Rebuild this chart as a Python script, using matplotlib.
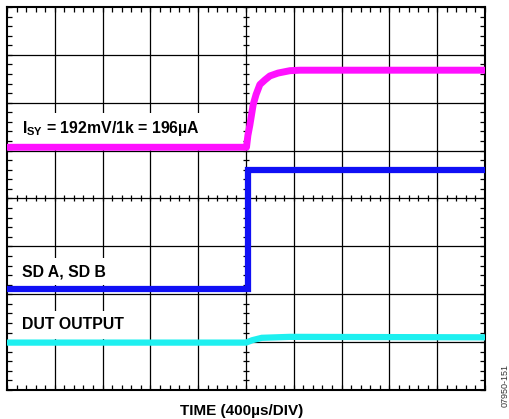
import numpy as np
import matplotlib
matplotlib.use("Agg")
from matplotlib import pyplot as plt

plt.rcParams["font.family"] = ["Liberation Sans", "DejaVu Sans"]
plt.rcParams["mathtext.fontset"] = "custom"
plt.rcParams["mathtext.bf"] = "Liberation Sans:bold"
plt.rcParams["mathtext.rm"] = "Liberation Sans:bold"

# scope screen: 10 x 8 divisions (in divisions)
isy_t = [0.0, 5.01, 5.04, 5.08, 5.15, 5.21, 5.29, 5.40, 5.50, 5.67, 5.92, 6.13, 10.0]
isy_v = [5.07, 5.07, 5.32, 5.53, 5.96, 6.17, 6.38, 6.48, 6.56, 6.62, 6.67, 6.68, 6.68]

sd_t = [0.0, 5.04, 5.04, 5.06, 10.0]
sd_v = [2.12, 2.12, 4.59, 4.59, 4.59]

dut_t = [0.0, 5.0, 5.13, 5.33, 5.92, 10.0]
dut_v = [0.99, 0.99, 1.04, 1.09, 1.11, 1.10]

labels = ["$\\mathbf{I_{SY}}$ = 192mV/1k = 196µA", "SD A, SD B", "DUT OUTPUT"]
label_v = [5.37, 2.38, 1.27]

x_divs, y_divs = 10, 8

fig = plt.figure(figsize=(5.09, 4.19), dpi=100)
ax = fig.add_axes([7 / 509, 1 - 390 / 419, 478 / 509, 383 / 419])
ax.set_xlim(0, x_divs)
ax.set_ylim(0, y_divs)

# graticule
for gx in range(1, x_divs):
    ax.axvline(gx, color="black", lw=0.9, zorder=1)
for gy in range(1, y_divs):
    ax.axhline(gy, color="black", lw=0.9, zorder=1)

# minor ticks on the frame
ax.set_xticks(np.arange(0, x_divs + 0.01, 0.2))
ax.set_yticks(np.arange(0, y_divs + 0.01, 0.2))
ax.tick_params(direction="in", length=3.5, width=0.9, top=True, right=True,
               labelbottom=False, labelleft=False)
for s in ax.spines.values():
    s.set_linewidth(1.5)

# ticks across the centre lines
cx = np.arange(0, x_divs + 0.01, 0.2)
cy = np.arange(0, y_divs + 0.01, 0.2)
ax.plot(cx, np.full_like(cx, y_divs / 2), ls="none", marker="|", ms=5,
        mew=0.9, color="black", zorder=1)
ax.plot(np.full_like(cy, x_divs / 2), cy, ls="none", marker="_", ms=5,
        mew=0.9, color="black", zorder=1)

# labels sit on white patches that hide the graticule
for txt, v in zip(labels, label_v):
    ax.text(0.31, v, txt, fontsize=11.4, fontweight="bold", ha="left",
            va="baseline", zorder=2,
            bbox=dict(boxstyle="square,pad=0.4", fc="white", ec="none"))

# traces
ax.plot(dut_t, dut_v, color="#1ef0f0", lw=4.5, solid_joinstyle="miter", zorder=3)
ax.plot(sd_t, sd_v, color="#1010f5", lw=4.5, solid_joinstyle="miter", zorder=3)
ax.plot(isy_t, isy_v, color="#ff10ff", lw=5.0, zorder=4)

fig.text(242 / 509, 1 - 415 / 419, "TIME (400µs/DIV)", fontsize=11,
         fontweight="bold", ha="center", va="baseline")
fig.text(505 / 509, 1 - 385 / 419, "07950-151", fontsize=6.5, rotation=90,
         ha="center", va="center", color="#333333")

fig.savefig("out.png", dpi=100)
